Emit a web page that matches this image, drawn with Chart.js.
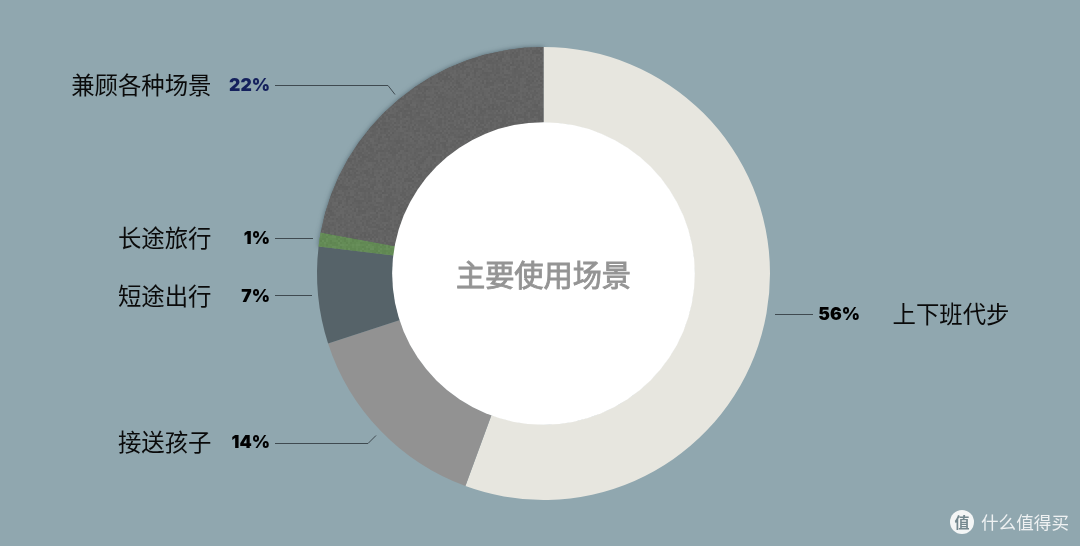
<!DOCTYPE html>
<html>
<head>
<meta charset="utf-8">
<title>主要使用场景</title>
<script src="https://cdn.jsdelivr.net/npm/chart.js@4"></script>
<style>
  html, body { margin: 0; padding: 0; background: #90a7af; overflow: hidden; }
  canvas { display: block; }
</style>
</head>
<body>
<canvas id="chart" width="1080" height="546"></canvas>
<script>
const categories = ['上下班代步', '接送孩子', '短途出行', '长途旅行', '兼顾各种场景'];
const shares = [55.6, 14.4, 6.9, 1.0, 22.1];
const shareLabels = ['56%', '14%', '7%', '1%', '22%'];
const shareColors = ['#000000', '#000000', '#000000', '#000000', '#14205c'];
const sliceColors = ['#e7e6df', '#929292', '#566369', '#648c56', '#636363'];
const centerTitle = '主要使用场景';

// label layout, same order as categories
const catX = [892.5, 211.5, 211.5, 211.5, 211.5];
const catAlign = ['left', 'right', 'right', 'right', 'right'];
const pctX = [860, 270, 270, 270, 270];
const labelY = [314, 442, 296, 238, 85];
const leaders = [
  [[775, 314], [813, 314]],
  [[275, 443], [368, 443], [376, 435]],
  [[275, 295], [312, 295]],
  [[275, 238], [313, 238]],
  [[275, 85], [388, 85], [395, 94]]
];

// grainy fill for the big dark slice
function grain(base) {
  const c = document.createElement('canvas');
  c.width = c.height = 128;
  const g = c.getContext('2d');
  g.fillStyle = base;
  g.fillRect(0, 0, 128, 128);
  for (let y = 0; y < 128; y += 2) {
    for (let x = 0; x < 128; x += 2) {
      const h = Math.sin(x * 12.9898 + y * 78.233) * 43758.5453;
      const n = h - Math.floor(h);
      g.fillStyle = n > 0.5 ? 'rgba(255,255,255,' + (n - 0.5) * 0.07 + ')' : 'rgba(0,0,0,' + (0.5 - n) * 0.1 + ')';
      g.fillRect(x, y, 2, 2);
    }
  }
  return g.createPattern(c, 'repeat');
}

const fills = sliceColors.slice();
fills[4] = grain(sliceColors[4]);
fills[3] = grain(sliceColors[3]);

const pieDecor = {
  id: 'pieDecor',
  beforeDatasetsDraw(chart) {
    // soft shadow only round the textured slices
    const ctx = chart.ctx;
    const arcs = chart.getDatasetMeta(0).data;
    [3, 4].forEach((i) => {
      ctx.save();
      ctx.shadowColor = 'rgba(30,50,60,0.55)';
      ctx.shadowBlur = 5;
      arcs[i].draw(ctx);
      ctx.restore();
    });
  },
  afterDatasetsDraw(chart) {
    const ctx = chart.ctx;
    const arc = chart.getDatasetMeta(0).data[0];

    ctx.save();
    ctx.beginPath();
    ctx.arc(arc.x, arc.y, arc.innerRadius + 0.5, 0, Math.PI * 2);
    ctx.fillStyle = '#ffffff';
    ctx.fill();

    ctx.fillStyle = '#949494';
    ctx.strokeStyle = '#949494';
    ctx.lineWidth = 0.9;
    ctx.font = '400 29.2px "Noto Sans CJK SC"';
    ctx.textAlign = 'center';
    ctx.textBaseline = 'middle';
    ctx.fillText(centerTitle, arc.x, arc.y + 1);
    ctx.strokeText(centerTitle, arc.x, arc.y + 1);

    categories.forEach((name, i) => {
      ctx.strokeStyle = '#3f4a50';
      ctx.lineWidth = 1;
      ctx.beginPath();
      leaders[i].forEach((p, k) => {
        if (k === 0) ctx.moveTo(p[0], p[1] + 0.5);
        else ctx.lineTo(p[0], p[1] + 0.5);
      });
      ctx.stroke();

      ctx.fillStyle = '#0a0a0a';
      ctx.font = '400 23.4px "Noto Sans CJK SC"';
      ctx.textAlign = catAlign[i];
      ctx.fillText(name, catX[i], labelY[i]);

      ctx.fillStyle = shareColors[i];
      ctx.font = '900 17.5px Inter';
      ctx.textAlign = 'right';
      ctx.fillText(shareLabels[i], pctX[i], labelY[i] + 1);
    });

    // watermark, bottom right
    ctx.beginPath();
    ctx.arc(962, 522, 12, 0, Math.PI * 2);
    ctx.fillStyle = '#f4f6f6';
    ctx.fill();
    ctx.fillStyle = '#74888f';
    ctx.font = '700 15px "Noto Sans CJK SC"';
    ctx.textAlign = 'center';
    ctx.fillText('值', 962, 522);
    ctx.fillStyle = '#eef1f2';
    ctx.font = '400 17.6px "Noto Sans CJK SC"';
    ctx.textAlign = 'left';
    ctx.fillText('什么值得买', 981, 522);
    ctx.restore();
  }
};

new Chart(document.getElementById('chart'), {
  type: 'doughnut',
  data: {
    labels: categories,
    datasets: [{
      data: shares,
      backgroundColor: fills,
      borderWidth: 0
    }]
  },
  options: {
    responsive: false,
    animation: false,
    cutout: '66.6%',
    layout: { padding: { top: 47, bottom: 46, left: 7, right: 0 } },
    plugins: {
      legend: { display: false },
      tooltip: { enabled: false }
    }
  },
  plugins: [pieDecor]
});
</script>
</body>
</html>
